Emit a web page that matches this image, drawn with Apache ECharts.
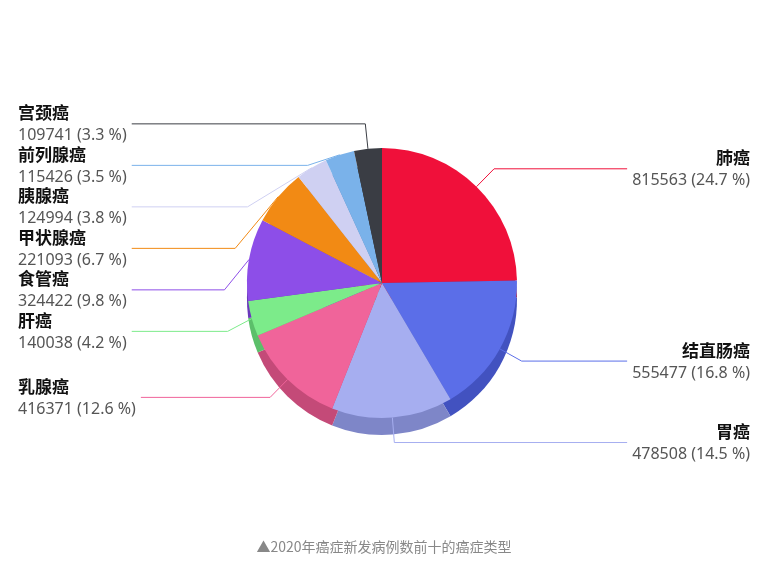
<!DOCTYPE html>
<html><head><meta charset="utf-8">
<script src="https://cdn.jsdelivr.net/npm/echarts@6/dist/echarts.min.js"></script>
<style>html,body{margin:0;background:#fff}#c{width:768px;height:565px}</style>
</head><body><div id="c"></div>
<script>
const names = ['肺癌','结直肠癌','胃癌','乳腺癌','肝癌','食管癌','甲状腺癌','胰腺癌','前列腺癌','宫颈癌'];
const values = [815563,555477,478508,416371,140038,324422,221093,124994,115426,109741];
const pcts = ['24.7','16.8','14.5','12.6','4.2','9.8','6.7','3.8','3.5','3.3'];
const colors = ['#f0103a','#5b6ee8','#a6aef0','#f0649a','#7ceb8a','#8d4ee8','#f28a14','#cfd0f2','#7ab2ea','#3a3d44'];
const dark = ['#b50c2c','#4252c0','#7e86c8','#c44a78','#5cbf6a','#6a38bb','#c06c0c','#a8a9c8','#5a8cc0','#25272c'];
const data = names.map((n,i)=>({name:n,value:values[i],pct:pcts[i],itemStyle:{color:colors[i]},labelLine:{lineStyle:{color:colors[i]}}}));
const shadow = names.map((n,i)=>({name:n,value:values[i],itemStyle:{color:dark[i]}}));
const chart = echarts.init(document.getElementById('c'));
chart.setOption({
  animation:false,
  title:{text:'▲2020年癌症新发病例数前十的癌症类型',left:'center',bottom:6,textStyle:{fontSize:14,fontWeight:'normal',color:'#888',fontFamily:'Noto Sans CJK SC'}},
  series:[
    {type:'pie',silent:true,center:[382,300],radius:[0,135],startAngle:90,clockwise:true,data:shadow,label:{show:false},labelLine:{show:false},z:1},
    {type:'pie',center:[382,283],radius:[0,135],startAngle:90,clockwise:true,data:data,z:2,
     label:{alignTo:'edge',edgeDistance:18,textAlign:'left',
       formatter:p=>'{n|'+p.name+'}\n{v|'+p.value+' ('+p.data.pct+' %)}',
       rich:{n:{fontSize:17,fontWeight:'bold',color:'#111',fontFamily:'Noto Sans CJK SC',lineHeight:24},
             v:{fontSize:16,color:'#555',fontFamily:'Noto Sans',lineHeight:22}}},
     labelLine:{length:25,length2:20}}
  ]
});
</script></body></html>
